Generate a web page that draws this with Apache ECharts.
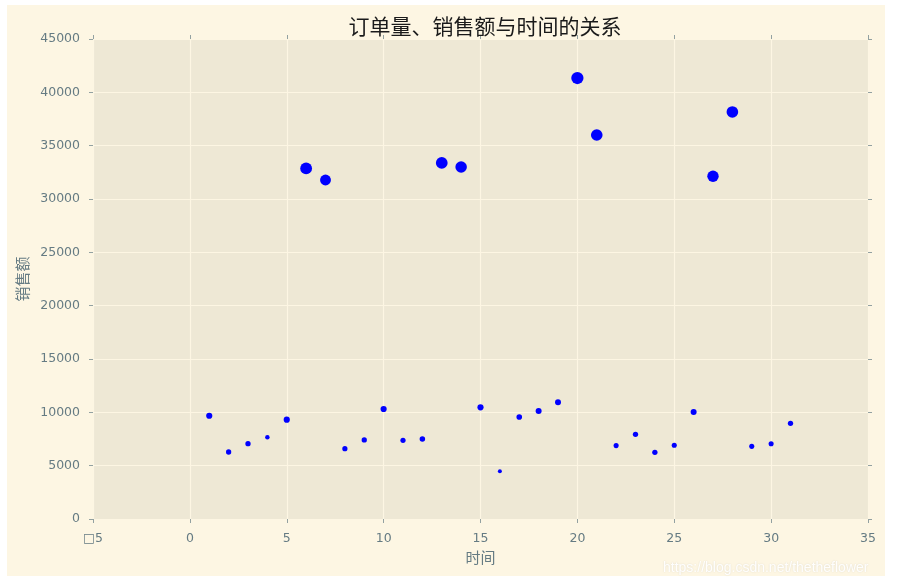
<!DOCTYPE html>
<html>
<head>
<meta charset="utf-8">
<script src="https://cdn.jsdelivr.net/npm/echarts@6/dist/echarts.min.js"></script>
<style>
html,body{margin:0;padding:0;background:#ffffff;}
#chart{width:906px;height:585px;}
</style>
</head>
<body>
<div id="chart"></div>
<script>
// Data
var days = [1,2,3,4,5,6,7,8,9,10,11,12,13,14,15,16,17,18,19,20,21,22,23,24,25,26,27,28,29,30,31];
var sales = [9680,6280,7060,7660,9310,32870,31780,6590,7410,10310,7380,7500,33380,33000,10470,4470,9560,10130,10940,41340,36000,6880,7940,6250,6910,10030,32130,38160,6810,7060,8970];
var orders = [38,28,28,20,38,140,118,27,28,38,27,30,138,132,38,16,32,36,36,150,135,26,28,28,26,36,130,135,26,26,28];
var xTicks = [-5,0,5,10,15,20,25,30,35];
var yTicks = [0,5000,10000,15000,20000,25000,30000,35000,40000,45000];
var titleText = '订单量、销售额与时间的关系';
var xName = '时间';
var yName = '销售额';

var points = days.map(function(d, i){ return [d, sales[i], orders[i]]; });

var tickColor = '#657b83';
var tickLine = {color:'#93a1a1', width:1};
var chart = echarts.init(document.getElementById('chart'), null, {renderer:'canvas'});
var option = {
  backgroundColor: '#ffffff',
  animation: false,
  graphic: [
    {type:'rect', z:-10, silent:true, shape:{x:7,y:5,width:878,height:571}, style:{fill:'#fdf6e3'}},
    {type:'text', z:100, silent:true, left:663, top:561,
     style:{text:'https://blog.csdn.net/thetheflower', fill:'rgba(255,255,255,0.95)', font:'14px "Liberation Sans", Arial, sans-serif', textShadowColor:'rgba(0,0,0,0.12)', textShadowBlur:2}}
  ],
  title: {
    text: titleText,
    left: 480, top: 11, textAlign: 'center',
    textStyle: {fontFamily:'"Noto Sans CJK SC", sans-serif', fontSize:21, fontWeight:'normal', color:'#1a1a1a'}
  },
  grid: {left:93, right:38, top:39, bottom:66, show:true, backgroundColor:'#eee8d5', borderWidth:0},
  xAxis: [{
    type:'value', position:'bottom', min:xTicks[0], max:xTicks[xTicks.length-1], interval:5,
    name:xName, nameLocation:'middle', nameGap:30,
    nameTextStyle:{fontFamily:'"Noto Sans CJK SC", sans-serif', fontSize:15, color:tickColor},
    axisLine:{show:false, onZero:false},
    axisTick:{show:true, inside:false, length:4, lineStyle:tickLine},
    axisLabel:{margin:13, color:tickColor, fontFamily:'"DejaVu Sans", sans-serif', fontSize:12.5,
      formatter:function(v){ return v < 0 ? '\u25A1' + Math.abs(v) : String(v); }},
    splitLine:{show:true, lineStyle:{color:'#fdf6e3', width:1.2}}
  },{
    type:'value', position:'top', min:xTicks[0], max:xTicks[xTicks.length-1], interval:5,
    axisLine:{show:false, onZero:false}, axisLabel:{show:false}, splitLine:{show:false},
    axisTick:{show:true, inside:false, length:4, lineStyle:tickLine}
  }],
  yAxis: [{
    type:'value', position:'left', min:yTicks[0], max:yTicks[yTicks.length-1], interval:5000,
    name:yName, nameLocation:'middle', nameGap:61,
    nameTextStyle:{fontFamily:'"Noto Sans CJK SC", sans-serif', fontSize:15, color:tickColor},
    axisLine:{show:false, onZero:false},
    axisTick:{show:true, inside:false, length:4, lineStyle:tickLine},
    axisLabel:{margin:13, color:tickColor, fontFamily:'"DejaVu Sans", sans-serif', fontSize:12.5,
      formatter:function(v){ return String(v); }},
    splitLine:{show:true, lineStyle:{color:'#fdf6e3', width:1.2}}
  },{
    type:'value', position:'right', min:yTicks[0], max:yTicks[yTicks.length-1], interval:5000,
    axisLine:{show:false, onZero:false}, axisLabel:{show:false}, splitLine:{show:false},
    axisTick:{show:true, inside:false, length:4, lineStyle:tickLine}
  }],
  series: [{
    type:'scatter',
    data: points,
    symbol:'circle',
    symbolSize:function(val){ return Math.sqrt(val[2]); },
    itemStyle:{color:'#0000ff', opacity:1}
  }]
};
chart.setOption(option);
</script>
</body>
</html>
